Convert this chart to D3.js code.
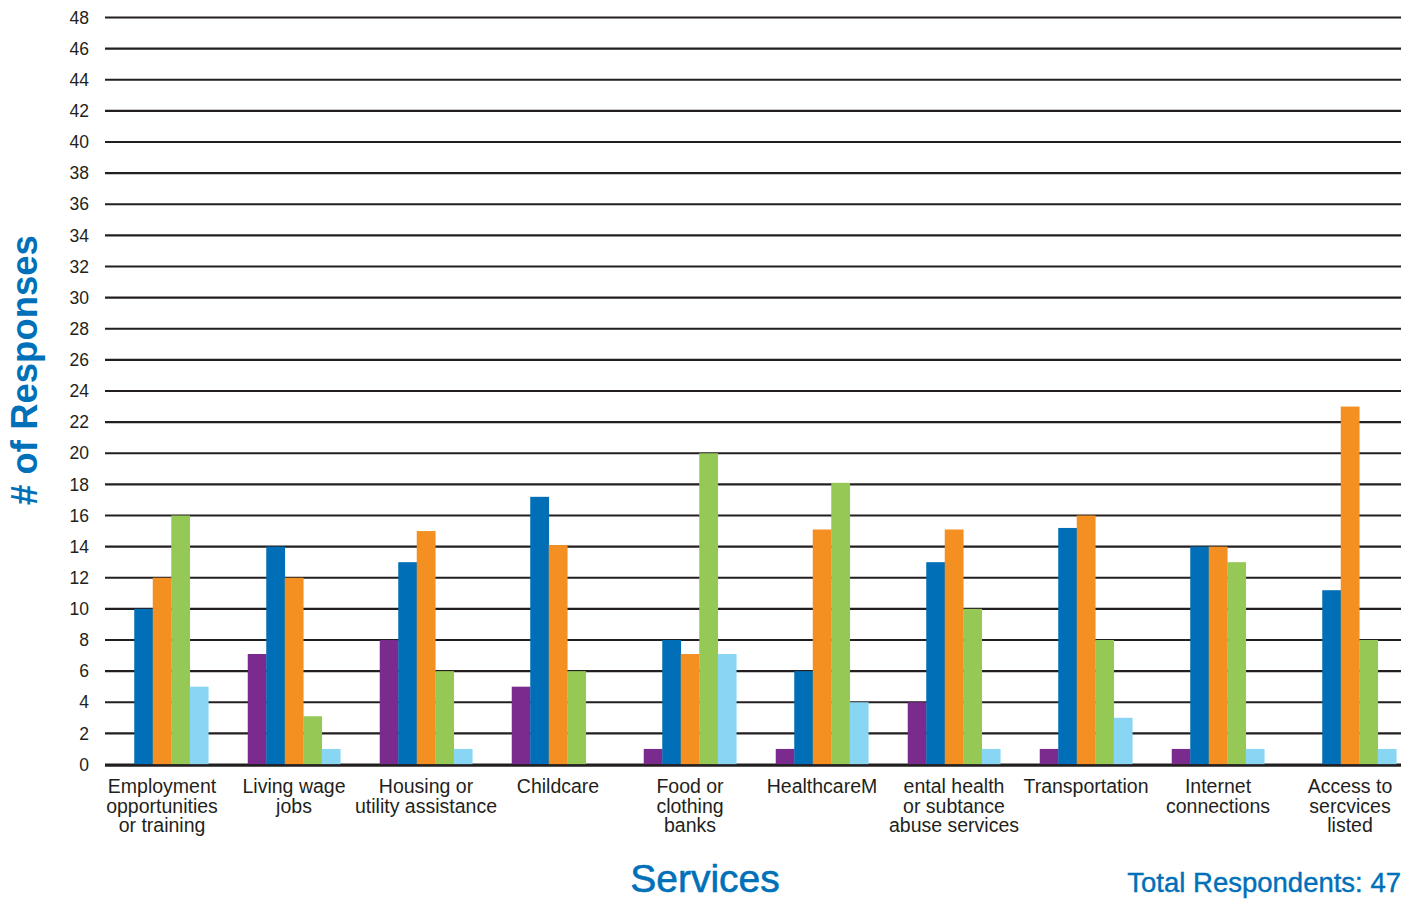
<!DOCTYPE html>
<html>
<head>
<meta charset="utf-8">
<script src="https://cdn.jsdelivr.net/npm/d3@7"></script>
<style>
  body { margin: 0; background: #fff; }
  svg text { font-family: "Liberation Sans", Arial, Helvetica, sans-serif; }
</style>
</head>
<body>
<div id="chart"></div>
<script>
// categories, split into label lines as printed on the chart
var categories = [
    'Employment', 'Living wage', 'Housing', 'Childcare', 'Food',
    'Healthcare', 'Mental health', 'Transportation', 'Internet', 'Access'
];
var categoryLabels = [
    ['Employment', 'opportunities', 'or training'],
    ['Living wage', 'jobs'],
    ['Housing or', 'utility assistance'],
    ['Childcare'],
    ['Food or', 'clothing', 'banks'],
    ['HealthcareM'],
    ['ental health', 'or subtance', 'abuse services'],
    ['Transportation'],
    ['Internet', 'connections'],
    ['Access to', 'sercvices', 'listed']
];
var seriesNames = ['s1', 's2', 's3', 's4', 's5'];
var seriesColors = ['#7b2a8e', '#006fb7', '#f39021', '#95c854', '#89d5f4'];

var s1 = [0, 7.1, 8, 5, 1, 1, 4, 1, 1, 0];
var s2 = [10, 14, 13, 17.2, 8, 6, 13, 15.2, 14, 11.2];
var s3 = [12, 12, 15, 14.1, 7.1, 15.1, 15.1, 16, 14, 23];
var s4 = [16, 3.1, 6, 6, 20, 18.1, 10, 8, 13, 8];
var s5 = [5, 1, 1, 0, 7.1, 4, 1, 3, 1, 1];
var seriesValues = [s1, s2, s3, s4, s5];

var yTicks = d3.range(0, 49, 2);

var width = 1419, height = 899;
var blue = '#0070b8';

var svg = d3.select('#chart').append('svg')
    .attr('width', width)
    .attr('height', height);

var y = d3.scaleLinear().domain([0, 48]).range([764.5, 17.5]);

// category bands (labels are evenly spaced 132px apart)
var x = d3.scaleBand().domain(categories).range([96, 1416]).padding(0);
var xInner = d3.scaleBand().domain(seriesNames).range([0, 92.5]).padding(0);
var groupOffset = (x.bandwidth() - 92.5) / 2;

// gridlines
svg.append('g')
    .selectAll('line')
    .data(yTicks)
    .enter().append('line')
    .attr('x1', 105)
    .attr('x2', 1401)
    .attr('y1', function(d) { return y(d); })
    .attr('y2', function(d) { return y(d); })
    .attr('stroke', '#231f20')
    .attr('stroke-width', 2.2);

// tick labels
svg.append('g')
    .selectAll('text')
    .data(yTicks)
    .enter().append('text')
    .attr('x', 89)
    .attr('y', function(d) { return y(d); })
    .attr('dy', '0.35em')
    .attr('text-anchor', 'end')
    .attr('font-size', 17.5)
    .attr('fill', '#231f20')
    .text(function(d) { return d; });

// bars
var rows = [];
categories.forEach(function(c, i) {
    seriesNames.forEach(function(s, j) {
        rows.push({ cat: c, series: s, value: seriesValues[j][i], color: seriesColors[j] });
    });
});

svg.append('g')
    .selectAll('rect')
    .data(rows.filter(function(d) { return d.value > 0; }))
    .enter().append('rect')
    .attr('x', function(d) { return x(d.cat) + groupOffset + xInner(d.series); })
    .attr('width', xInner.bandwidth() + 0.3)
    .attr('y', function(d) { return y(d.value); })
    .attr('height', function(d) { return y(0) - y(d.value); })
    .attr('fill', function(d) { return d.color; });

// baseline on top
svg.append('line')
    .attr('x1', 105).attr('x2', 1401)
    .attr('y1', y(0) + 1).attr('y2', y(0) + 1)
    .attr('stroke', '#231f20')
    .attr('stroke-width', 2.5);

// category labels
var labels = svg.append('g')
    .selectAll('text')
    .data(categories)
    .enter().append('text')
    .attr('text-anchor', 'middle')
    .attr('font-size', 19.5)
    .attr('fill', '#231f20')
    .attr('transform', function(d) { return 'translate(' + (x(d) + x.bandwidth() / 2) + ',793)'; });

labels.selectAll('tspan')
    .data(function(d, i) { return categoryLabels[i]; })
    .enter().append('tspan')
    .attr('x', 0)
    .attr('y', function(d, i) { return i * 19.6; })
    .text(function(d) { return d; });

// axis titles
svg.append('text')
    .attr('transform', 'translate(37,370) rotate(-90)')
    .attr('text-anchor', 'middle')
    .attr('font-size', 36.5)
    .attr('font-weight', 'bold')
    .attr('fill', blue)
    .text('# of Responses');

svg.append('text')
    .attr('x', 705)
    .attr('y', 892)
    .attr('text-anchor', 'middle')
    .attr('font-size', 39)
    .attr('fill', blue)
    .attr('stroke', blue)
    .attr('stroke-width', 0.6)
    .text('Services');

svg.append('text')
    .attr('x', 1401)
    .attr('y', 892)
    .attr('text-anchor', 'end')
    .attr('font-size', 27.5)
    .attr('fill', blue)
    .attr('stroke', blue)
    .attr('stroke-width', 0.4)
    .text('Total Respondents: 47');
</script>
</body>
</html>
